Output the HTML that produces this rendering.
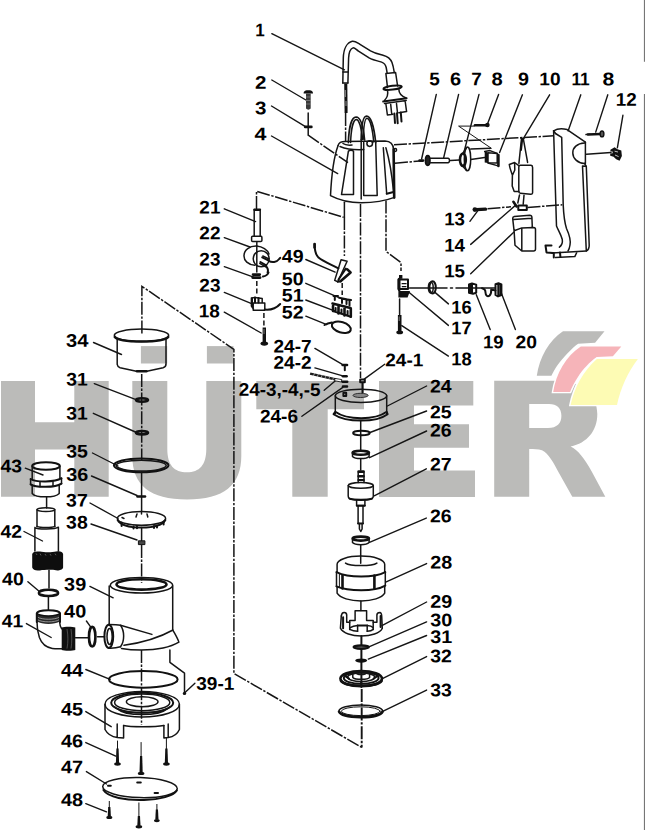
<!DOCTYPE html>
<html><head><meta charset="utf-8"><title>Parts diagram</title>
<style>
html,body{margin:0;padding:0;background:#fff;overflow:hidden}
svg{display:block;position:absolute;left:0;top:0}
text{font-family:"Liberation Sans",sans-serif;font-weight:bold;font-size:18.2px;text-rendering:geometricPrecision;fill:#000}
.l{stroke:#151515;stroke-width:1.5;fill:none;stroke-linecap:round;stroke-linejoin:round}
.t{stroke:#151515;stroke-width:1.0;fill:none;stroke-linecap:round;stroke-linejoin:round}
.k{stroke:#111;stroke-width:2;fill:none;stroke-linecap:round;stroke-linejoin:round}
.kk{stroke:#111;stroke-width:2.6;fill:none;stroke-linecap:round;stroke-linejoin:round}
.f{fill:#111;stroke:none}
.d{stroke:#151515;stroke-width:1.5;fill:none;stroke-dasharray:13 1.6 2.4 1.6}
.d2{stroke:#151515;stroke-width:1.5;fill:none;stroke-dasharray:5 2.5}
.ld{stroke:#151515;stroke-width:1.4;fill:none;stroke-linecap:round}
.w{fill:#bbbbb9}
</style></head><body>
<svg width="645" height="830" viewBox="0 0 645 830">
<rect x="0" y="0" width="645" height="830" fill="#fff"/>
<g id="watermark">
<!-- H -->
<path class="w" d="M1,381 H35 V422.2 H74.3 V381 H108.7 V496.7 H74.3 V449.4 H35 V496.7 H1 Z"/>
<!-- U umlaut -->
<path class="w" d="M132.3,381 H167.3 V449 C167.3,465 174,472.3 187,472.3 C199.5,472.3 206.3,465 206.3,449 V381 H241.3 V456 C241.3,485 224,499.5 187,499.5 C150,499.5 132.3,485 132.3,456 Z"/>
<rect class="w" x="140.9" y="346.1" width="26.3" height="17.4"/>
<rect class="w" x="206.9" y="346.1" width="26.6" height="17.4"/>
<!-- T -->
<path class="w" d="M256.3,381 H364 V409.2 H327.7 V496.7 H292.3 V409.2 H256.3 Z"/>
<!-- E -->
<path class="w" d="M379,381 H473.3 V405.6 H414 V424.2 H469 V447.8 H414 V470.6 H475 V497 H379 Z"/>
<!-- R -->
<path class="w" d="M494.2,380.8 H556 C583,381 597.3,395 597.3,414 C597.3,431 587,443 570.6,446.6 C578,450 584,458 591.7,471.4 L605.3,496.7 H572.3 L559.4,473.8 C553,462 549,454 542,450.3 C538,449 534,449 529.2,449 V496.7 H494.2 Z M529.2,403.9 V428 H548 C557,428 561.4,423.5 561.4,415.8 C561.4,408 557,403.9 549,403.9 Z" fill-rule="evenodd"/>
<!-- logo -->
<path d="M563,331.2 H604.5 L595.1,342.8 L578.1,343.7 C572,348 563,357.5 557.6,365.1 C555,369 553,372.5 551.4,375.8 H536.8 C539.5,357 549,340.5 563,331.2 Z" fill="#bbbbb9" stroke="#fff" stroke-width="2.8" paint-order="stroke"/>
<path d="M580.8,346.4 H621.3 L612.9,356.2 L596.9,357.1 C590,361.5 582.5,370 578.1,376.7 C574.5,382 572,387 570.1,391.9 H553.2 C556,373.5 566,356 580.8,346.4 Z" fill="#f6b4b9" stroke="#fff" stroke-width="2.8" paint-order="stroke"/>
<path d="M596.9,358.9 H637.9 C628,372 620.5,388 617,404.9 H570.6 C574,388 583,371 596.9,358.9 Z" fill="#fdfbb4" stroke="#fff" stroke-width="2.8" paint-order="stroke"/>
<!-- right border -->
<path d="M644.45,0 V61.7 M644.45,94 V830" stroke="#767676" stroke-width="1.1" fill="none"/>
</g>
<g id="leaders" class="ld">
<path d="M271.8,33.7 L344.5,69.8"/>
<path d="M271.8,80 L305.9,100"/>
<path d="M271.5,106 L305,126.4"/>
<path d="M271.5,136 L337.7,173.6"/>
<path d="M436.3,94.4 L421.6,159"/>
<path d="M458.6,94.4 L443.6,158"/>
<path d="M479,94.4 L464.2,151.2"/>
<path d="M498.6,94.4 L487.4,124.2"/>
<path d="M522.4,94.8 L499.6,152.5"/>
<path d="M549.6,94.8 L523.6,138.1"/>
<path d="M580.8,94.8 L568.1,130.9"/>
<path d="M607.8,94.8 L595.7,132.1"/>
<path d="M622.9,115.3 L617.4,147.7"/>
<path d="M469.9,221.3 L477.7,210.9"/>
<path d="M470.7,244.4 L515.4,205.4"/>
<path d="M470.7,273.7 L514,231.9"/>
<path d="M448.4,303.9 L434.4,291.9"/>
<path d="M448.4,325.4 L408.9,292.3"/>
<path d="M448.4,356.1 L401.8,325.6"/>
<path d="M490.2,329.5 L476.3,294.7"/>
<path d="M515.4,329.5 L501.4,293.3"/>
<path d="M224.3,208.8 L255.6,221.6"/>
<path d="M224.3,237.6 L250,247"/>
<path d="M224.3,266.7 L253.6,277.2"/>
<path d="M224.3,292.4 L252.8,304.2"/>
<path d="M224.3,312.2 L261.2,333"/>
<path d="M305.8,259.5 L335.1,272.1"/>
<path d="M305.8,283.3 L337.9,297.2"/>
<path d="M305.8,300 L335.1,311.2"/>
<path d="M305.8,316.2 L326.8,324.6"/>
<path d="M314.9,348.4 L341.9,364.2"/>
<path d="M314.9,367.9 L341.9,375.7"/>
<path d="M324.2,390.2 L336.3,380"/>
<path d="M301.9,416.3 L342.8,387.4"/>
<path d="M384.7,364.2 L364.2,379.1"/>
<path d="M426.6,386 L387.4,406"/>
<path d="M426.6,411 L370,432.5"/>
<path d="M426.6,431 L369.5,457.7"/>
<path d="M426.3,468.8 L374.2,495.8"/>
<path d="M426.3,518.1 L369.5,542.3"/>
<path d="M426.6,563.6 L385.7,582.2"/>
<path d="M426.6,602 L381.9,625.6"/>
<path d="M426.6,621.9 L369.5,646.7"/>
<path d="M426.6,635.5 L368.3,659.1"/>
<path d="M426.6,656.6 L381.9,678.9"/>
<path d="M426.6,690.1 L383.2,711.2"/>
<path d="M93.5,342.5 L121.5,354.5"/>
<path d="M94.3,383.6 L135.4,399.3"/>
<path d="M93.3,413.3 L135.4,432"/>
<path d="M92.5,453 L118,466"/>
<path d="M91.5,476 L137,495.5"/>
<path d="M90,503 L118,518.5"/>
<path d="M91,524 L137,540"/>
<path d="M25.3,468.2 L43,475"/>
<path d="M24,531.5 L42.5,541"/>
<path d="M27.9,581.7 L38.8,591"/>
<path d="M89.9,586.4 L113.2,597.8"/>
<path d="M86.4,621 L90.8,627.2"/>
<path d="M26.4,623.6 L51.2,637.5"/>
<path d="M85.8,669.5 L110.1,679.4"/>
<path d="M85.8,711.6 L111.2,726.7"/>
<path d="M85.8,742.6 L115.8,756.1"/>
<path d="M86.4,771.6 L106.5,784"/>
<path d="M85.8,803.6 L106.5,811.9"/>
<path d="M194.9,683.3 L184.5,693"/>
</g>
<g id="axes">
<!-- big boundary -->
<path class="d" d="M141.9,333.4 V286.3 L233.9,349.3 V673.5 L361.8,747.4"/>
<!-- left assembly axis -->
<path class="d" d="M141.7,374 V460"/>
<path class="l" d="M141.6,472 V511.6 M141.6,527.6 V540.6"/><path class="d" d="M141.6,545 V583"/>
<path class="d" d="M141.5,650 V725"/>
<!-- main axis -->
<path class="d" d="M360.5,204 V378"/>
<path class="l" d="M360.7,421 V450 M360.7,459 V470 M360.7,545 V563.2 M360.9,601 V610.6"/>
<path class="k" d="M361.4,636 V687"/><path class="d" d="M361.7,689 V747.4" style="stroke-width:1.9"/>
<!-- cable to pump -->
<path class="d" d="M345.6,113 V141"/>
<!-- pump body lines -->
<path class="d" d="M344.4,217 V256"/>
<path class="d" d="M386,200.6 V251.4 L401,262.6 V271"/>
<path class="l" d="M399.6,299 V314.5"/>
<!-- 21 to body -->
<path class="d" d="M256.5,209 V191.2 L343.6,217.3"/>
<path class="l" d="M256.8,242.5 V272"/><path class="d2" d="M256.8,281 V296"/>
<path class="d2" d="M263.9,313 V327"/>
<!-- 3 dash -->
<path class="l" d="M308.2,113 V135.2"/><path class="d" d="M308.2,135.2 L348,162.7"/>
<!-- top right dash-dot lines -->
<path class="d" d="M394,144.8 L553.6,135.8"/>
<path class="d" d="M395,163.2 L419.6,161"/><path class="l" d="M450.4,160.6 L459.4,159.9 M470.8,159.4 L484.6,157.6"/>
<path class="d" d="M487.5,208.8 L511,206.8"/>
<path class="d" d="M527.5,207.4 L562.3,204.8"/>
<path class="l" d="M586.5,154.2 L611,152.6"/>
<path class="l" d="M409.5,287.9 H447 M450.5,287.9 H452.5 M456,287.9 H495"/>
<path class="d2" d="M342.2,283 V295"/>
</g>
<g id="art1">
<!-- 1 cable -->
<path class="l" d="M342.8,83 L343.3,58 C343.6,48 347.5,42.3 352.3,41.2 C355,40.8 357,42.5 360,44.3 L370.5,50.9 C375,53.5 379,54.2 383,55.2 C387.5,56.3 390.5,58.5 392,62.5 C393.3,66 393.8,69.5 394.3,72.6"/>
<path class="l" d="M347.9,83 L348.6,58 C348.9,52 350.5,48.8 353,47.9 C354.6,47.5 356.2,49.6 358.5,51.2 L369.1,57.9 C373,60 377.5,61 381.6,62.1 C384.3,63 385.6,64.5 386.2,67.5 L387.2,73.3"/>
<path class="l" d="M342.9,72 H348 M342.8,83 H347.9"/>
<path d="M344.2,83.5 H347.3 L347.6,113 H344.6 Z" class="f"/>
<path d="M345.3,90 V97 M346,101 V106" stroke="#ccc" stroke-width="0.7"/>
<!-- plug -->
<path class="l" d="M385.9,73.6 L395.6,72.5 L397.6,86 M385.9,73.6 L387.5,87.5"/>
<ellipse cx="392.6" cy="87.7" rx="9.2" ry="1.9" transform="rotate(-7 392.6 87.7)" class="k"/>
<path class="l" d="M387.5,90.5 C388.5,95 386.8,98 384.5,100.5 M398.9,89.6 C398.8,93.5 400.8,95.8 406,98"/>
<path class="k" d="M383.2,101.6 L406.6,98.2"/>
<path class="l" d="M384.5,103.4 L406.2,100.5 M385.9,104 L387.4,115 L393,114.2 M405.2,101.5 L406.6,111.6 L399,112.8 M390.7,104.4 L391.7,114 M396.5,103.6 L397.5,113"/>
<path class="k" d="M394.4,113.5 L395,123 M397,113.2 L397.7,123.2 M400.8,112.5 L401.5,121.5"/>
<!-- 2 screw -->
<path d="M303.6,93.6 C303.6,90.6 306,90.3 308.3,90.3 C310.6,90.3 313,90.6 313,93.6 Z" class="f"/>
<path d="M306,93.6 H310.7 V108.6 C309.5,110 307.2,110 306,108.6 Z" fill="#3a3a3a"/>
<path d="M306,97 H310.7 M306,100.5 H310.7 M306,104 H310.7" stroke="#999" stroke-width="0.6"/>
<path class="kk" d="M305.2,126.9 H311.4"/>
<!-- 4 cap -->
<path class="l" d="M338.1,145.4 C339,142.5 342,141.6 345,141.6 L385,140.9 C390.5,141 393.3,144.5 393.6,149.5"/>
<path class="l" d="M338.1,145.4 C334.5,155 331.5,175 330.5,195.6 C340,200.6 352,202.7 361.2,202.7 C372,202.7 385,201 394.4,197.4"/>
<path class="kk" d="M393.6,149.5 L394.2,197.6"/>
<path class="l" d="M340,146.5 C346,149 356,150 363.7,149.6 M343,143.5 C345,145 349,145.3 352,145"/>
<path class="l" d="M348.4,151.2 L341.5,194.6 H353.5 V151.2 M348.4,151.2 C350,150 352,150 353.5,151.2"/>
<path class="l" d="M361.2,139.5 V199 M363.7,142.6 V195.6 H377.2 L375.7,142.6"/>
<circle cx="369.7" cy="143.6" r="2.8" class="l"/>
<path class="l" d="M383.3,147.7 L386.7,193.8 M385.9,147.7 C389.5,160 392,175 393.6,192"/>
<path class="k" d="M386.7,193.8 L393.6,192"/>
<circle cx="395.2" cy="150" r="1.4" class="l"/>
<!-- handle -->
<path class="l" style="stroke-width:1.7" d="M348.4,142.6 C348.8,128 351.5,117.2 356,117 C360.5,117 363.3,126 364.6,140"/>
<path class="l" d="M350.6,142.6 C351,130 353.2,119.6 356.2,119.4 C359,119.4 361.5,128 362.6,139.5"/>
<path class="l" style="stroke-width:1.7" d="M361.2,139.2 C361.4,126 363,116.2 366.6,116 C371,116 374.2,128 375.7,142.6"/>
<path class="l" d="M363.2,139.2 C363.6,128 364.6,118.4 367,118.3 C370,118.4 372.6,129 373.7,142"/>
<!-- pump body below cap -->
<path class="l" d="M344.4,202.3 V217"/>
<!-- 5 nut -->
<ellipse cx="427.7" cy="160.5" rx="2.3" ry="4.9" fill="#222" stroke="#111" stroke-width="1.6"/>
<path class="kk" d="M419.6,160.6 H423"/>
<!-- 6 pin -->
<path class="l" d="M430.4,158.3 H448.2 C450,158.8 450,162.2 448.2,162.7 H430.4"/>
<!-- 7 disc -->
<ellipse cx="467.5" cy="158.9" rx="3.2" ry="11.8" class="l"/>
<ellipse cx="462.9" cy="159.7" rx="2.9" ry="6.2" class="kk"/>
<path class="l" d="M463,153 L466.6,147.6 M463,166.4 L466.6,170.4"/>
<path class="l" d="M470.8,149.1 L490.6,148.2"/>
<!-- zig-zag + screw 8 -->
<path class="t" d="M474.4,126.1 H458.6 L491.2,148.2"/>
<path class="kk" d="M475,125.2 H486"/>
<circle cx="487.4" cy="125" r="2.3" class="f"/>
<!-- 9 block -->
<path d="M484.7,151.6 L488,152.6 V163 L484.7,162.4 Z" class="f"/>
<path class="l" d="M488,152.8 L497.2,153.4 V163 L488,162.8 Z"/>
<path class="kk" d="M498.4,155 V166"/>
<path class="l" d="M484.7,151.6 L490,150.6 L497.2,153.4 M488,163 L497.2,165.6"/>
<!-- 10 switch -->
<path class="l" d="M521.5,138.6 L518.9,163.4 M523.3,138.6 L527.6,162.4 M521,138.5 H524"/>
<path class="k" d="M522.2,139.5 L521,150"/>
<path class="l" d="M520.4,165.3 H531 C532.2,165.4 532.6,166.2 532.6,167.4 V192.6 C532.6,193.8 531.8,194.3 530.6,194.2 L520.4,193.3 C519.2,193.2 518.8,192.4 518.8,191.2 V167 C518.8,165.8 519.4,165.3 520.4,165.3 Z"/>
<path class="l" d="M509.3,164.5 L514.6,162.5 L518.8,165.6 M509.3,164.5 C509.8,169 511.5,172 512.4,175 L512.2,186 L514.2,191.5 L518.8,191.5 M514.6,162.6 L514.8,170 L512.6,175"/>
<path class="l" d="M519.5,195 L517.8,203 M524,195.3 L523.2,204.3"/>
<path class="kk" d="M513.4,201.8 L516.6,206.4"/><path class="k" d="M518.3,205.5 H526.8 V210 H518.3 Z"/>
<!-- 11 cover -->
<path class="l" d="M553.6,130.8 C557,128.8 563,128.6 567.1,129.6 L585.4,142.2"/>
<path class="l" d="M553.6,130.8 L556.5,226 C558,230 561,234.5 562.3,239.5 C562.8,243 561.5,245.5 559.4,247.2"/>
<path class="l" d="M555.5,133.5 L561.7,137.3 L563.2,204.8 C563.6,214 564.4,222 566.5,228.5 C569,234 571,240 570,245 C569.6,247.5 569,249.5 568,251"/>
<path class="l" d="M553.6,130.8 L555.5,133.5"/>
<path class="l" d="M584.6,143 C577,143.4 572.7,147.5 572.8,152.9 C572.9,158.5 577.5,163 584.4,163.4 M585.4,142.2 V163.5"/>
<path class="l" d="M582.5,166 L586.3,251 M586.3,166.2 L589.2,245 C589.3,248 588,250.2 586.3,251 M582.5,166 L586.3,166.2 M584.4,163.4 L586.3,166.2"/>
<path class="l" d="M552,253 L586.3,251 M555.5,257.6 L574.8,256.6 L577,252"/>
<path class="k" d="M545.5,245.5 H551.5 M545.5,245.5 L546.5,252.4 L553,253 M553.8,253 V257.5 M560,252.6 L560.4,256.8"/>
<!-- screw 8 right -->
<path class="kk" d="M588,134.5 L600.2,134"/>
<ellipse cx="602" cy="133.9" rx="1.9" ry="2.9" fill="#555" stroke="#111" stroke-width="1.4"/>
<path class="l" d="M586,134.6 L590,134.3"/>
<!-- 12 -->
<path d="M610.4,149.8 L614.6,147.3 L617.5,149.2 L621.3,150.6 L621.9,156 L619.6,160.7 L616.2,159.3 L613.6,156.8 L610.2,155.8 L610.2,153.6 L612.6,153.2 L612.6,151.6 L610.4,151.4 Z" fill="#111"/>
<path d="M614.6,151.2 L618,152 M615,155 L618.6,156.6" stroke="#eee" stroke-width="0.8"/>
<!-- 13 screw -->
<circle cx="474.9" cy="209.6" r="2.4" class="f"/>
<path d="M476.5,209.6 L485.6,209.2" stroke="#111" stroke-width="3.2" stroke-linecap="round"/>
<!-- 15 box -->
<path class="l" d="M514.2,216.4 L529.8,215.3 C531.2,215.3 531.8,216 531.9,217.2 L532.3,227 M514.2,216.4 C513,216.6 512.6,217.4 512.7,218.6 L514.1,230.8 L521.8,227.9 L533.6,227.6 C535,227.7 535.5,228.4 535.5,229.6 V249 C535.5,250.4 534.8,251 533.6,251 H521.8 L515,245.2 L514.1,230.8 M521.8,227.9 V251 M513.5,219.5 L531.8,218.2"/>
</g>
<g id="art2">
<!-- 21 bolt -->
<path class="l" d="M254.2,209.6 V236 M260.2,209.6 V236"/>
<path class="kk" d="M254.6,209.8 H259.8"/>
<path class="l" d="M252.6,236.2 H261 C261.7,236.3 261.9,236.8 261.9,237.4 V240.6 C261.9,241.3 261.5,241.6 260.8,241.6 H252.6 C252,241.6 251.6,241.2 251.6,240.6 V237.2 C251.6,236.6 252,236.2 252.6,236.2 Z"/>
<!-- 22 clamp -->
<path class="l" d="M256.7,246.1 C249.5,245.8 244.2,250 244,255.6 C243.8,260.6 248,264.8 254.9,265.2"/>
<path class="l" d="M256.7,246.1 C262.5,246.6 267.5,250 269,254"/>
<ellipse cx="261.2" cy="258.8" rx="8" ry="8" class="l"/>
<path class="k" d="M262.2,257.4 L268.3,260.4 M260.4,262 L266.2,265.4"/>
<path class="l" d="M262.8,256 L269,259 M259.8,263.4 L265.6,266.8"/>
<path class="k" d="M268.6,260.8 C272,262.8 276.6,262.4 279.2,259 L280.2,257.8 M265.8,266 C267.8,268 268.4,270.4 267.6,272.6"/>
<!-- 23 nut -->
<path class="kk" d="M253,274.6 H259.8 M252.6,277.6 H260.2"/>
<path class="k" d="M263,276.5 C266,276 267.8,274.5 268.5,272.5"/>
<!-- 23b block -->
<path class="l" d="M251.4,298 L255,297.4 L262.2,298.6 V303 M251.4,298 V306 L253.4,309 M253.2,303 H264.8 V310.3 H253.2 Z"/>
<path class="k" d="M252,298.6 V305.6 M255,297.6 V302.6 M258.5,298 V302.6"/>
<path class="k" d="M264.8,309.6 C271,310.2 276.5,308 280.2,304"/>
<!-- 18 bolt left -->
<path d="M262.6,327.5 H266 V342.5 H262.6 Z" class="f"/>
<path d="M264,329 V334" stroke="#aaa" stroke-width="0.7"/>
<ellipse cx="264.3" cy="343.6" rx="3.8" ry="2.1" class="f"/>
<!-- 49 -->
<path class="k" d="M314.6,243.9 C314.6,249 315,254 318.5,257.6 C323,261.5 331,264.5 338.4,268.4"/>
<path class="kk" d="M314.6,244 V247.5"/>
<path class="l" d="M341.1,259.8 L347.1,261.2 L337.8,281.7 L334.7,280.4 Z"/>
<path class="kk" d="M347.1,269.3 L350.6,272.4 L340.5,281.2"/>
<path class="k" d="M345.8,268.6 L338.5,279.5 M337.8,281.7 L341,281.2"/>
<!-- 50/51 terminal block -->
<path class="k" d="M333.5,296 H338 M334.8,296 V300 M339,297.8 L346.5,299.3 M342,298.4 V303 M346.5,299.3 V304 M349.5,300 V305.5 M344,299 L351,300"/>
<path class="kk" d="M332.5,303.5 L350.5,308 M333,306 V311 M338.5,305.5 V313.5 M344.5,307 V315.5 M350.8,308.5 V316.8"/>
<path class="k" d="M333,311 L350.8,316.8 M335.6,308 V311.6 M341.5,309.6 V313.5 M347.6,311 V315.6"/>
<!-- 52 loop -->
<ellipse cx="341.3" cy="327.3" rx="9.8" ry="5.2" transform="rotate(17 341.3 327.3)" class="k"/>
<path class="k" d="M324.5,325 C327,323.6 329.5,323 332,322.6"/>
<!-- 17 -->
<path d="M399,275 H402.4 V278.8 H399 Z" class="f"/>
<path class="k" d="M398.4,279.4 H408 V289 H398.4 Z"/>
<path class="kk" d="M399.2,279 V290"/>
<path d="M401.6,283.6 H406.6 M401.8,286.6 H406.4" stroke="#111" stroke-width="1.3"/>
<path d="M398.4,291 H410 L407.6,297.6 H398.4 Z" class="f"/>
<!-- 18 bolt right -->
<path d="M397.9,315 H401.5 V331 H397.9 Z" class="f"/>
<path d="M399.2,316.5 V321" stroke="#aaa" stroke-width="0.7"/>
<ellipse cx="399.7" cy="332.4" rx="3.4" ry="1.8" class="f"/>
<!-- 16 -->
<ellipse cx="432.6" cy="287.4" rx="3.2" ry="6.2" class="k"/>
<ellipse cx="430.8" cy="287.6" rx="2.4" ry="5.4" class="l"/>
<!-- 19 -->
<path class="k" d="M469,284.5 L472,283.5 L476.2,284.6 V292.8 L473,293.8 L469,292.8 Z M472,283.8 V293.5 M469,288.5 H472"/>
<path class="kk" d="M470,285 V292.5"/>
<!-- 20 -->
<path class="k" d="M482,288.2 C484,288.6 485.5,290 485.5,292.5 C485.6,295.5 487.5,297 489.5,295.6 C491,294.4 491.3,292 491.2,289.6 L495.5,290.4"/>
<path class="k" d="M495.5,284.2 L498.5,283.3 L501.4,284.4 V295 L498,296.4 L495.5,295 Z M498.3,283.6 V296"/>
<path class="kk" d="M500.6,285 V294.5"/>
<!-- 24-7 -->
<path class="kk" d="M342.6,365 H347"/>
<path class="k" d="M344.8,365.5 V370.2"/>
<!-- 24-2 -->
<path class="kk" d="M343,376.3 H346.6"/>
<!-- hatched rod -->
<path d="M310.1,373.6 L336,379.5" stroke="#1c1c1c" stroke-width="2.5" fill="none"/>
<path d="M314.6,373.2 L313.2,376.4 M318.4,374 L317,377.2 M322.2,374.9 L320.8,378.1 M326,375.8 L324.6,379 M329.8,376.7 L328.4,379.9 M333.6,377.6 L332.2,380.8" stroke="#eee" stroke-width="0.55"/>
<path d="M335,378.4 L341.8,379.6 L341.4,382 L334.6,380.8 Z" fill="#fff" stroke="#151515" stroke-width="0.9"/>
<path class="kk" d="M342.6,381.8 H347.2 M343,386.5 H347"/>
<path class="k" d="M343.4,392.8 H346.2 V396 H343.4 Z"/>
<!-- 24-1 -->
<path class="k" d="M360.2,379.4 H364.8 V382.2 H360.2 Z M362.5,382.2 V392.5"/>
<!-- 24 -->
<ellipse cx="361" cy="395.8" rx="25.7" ry="6.6" class="l"/>
<path class="l" d="M335.3,395.8 V413.5 M386.7,395.8 V413.5"/>
<path class="k" d="M333.6,414.2 C340,418.6 350,420.6 361.2,420.6 C372.5,420.6 382,418.4 387.6,414.2 M335.3,411.8 C341,416 350,418.2 361.2,418.2 C372,418.2 381,416 386.7,411.8 M333.6,414.2 L335.3,411.8 M387.6,414.2 L386.7,411.8"/>
<ellipse cx="360.6" cy="395.4" rx="7.6" ry="2.1" fill="#888" stroke="#222" stroke-width="0.9"/>
<!-- 25 -->
<ellipse cx="361.4" cy="433" rx="8.3" ry="2.3" class="k"/>
<!-- 26 upper -->
<ellipse cx="360.8" cy="452.8" rx="8.2" ry="2" class="kk"/>
<path class="l" d="M352.5,453 V456.5 C355,459.3 366.5,459.3 369.1,456.5 V453"/>
<!-- 27 rotor -->
<path class="l" d="M358.2,472 V482.5 M364,472 V482.5"/>
<path class="kk" d="M358.6,471.6 H363.6 M358.6,476.2 H363.6"/>
<path class="k" d="M358.4,480 H363.8"/>
<ellipse cx="360.8" cy="485.4" rx="12.5" ry="2.8" class="l"/>
<path class="l" d="M348.2,485.4 V496 C348.2,498 350,499.4 353,499.6 H368.5 C371.6,499.4 373.3,498 373.3,496 V485.4"/>
<path class="k" d="M349.5,498.6 C356,500.6 366,500.6 372,498.6"/>
<path class="l" d="M356.6,500.6 V505.6 H364.9 V500.6 M358.1,505.6 V523.5 M363,505.6 V523.5"/>
<path class="k" d="M356.8,505.8 H364.8 M358.1,523.5 H363"/>
<path class="l" d="M359.4,523.6 V529 L360.8,531.5 L362.1,529 V523.6"/>
<!-- 26 lower -->
<ellipse cx="360.8" cy="538.6" rx="8.2" ry="2" class="kk"/>
<path class="l" d="M352.5,538.8 V542.6 C355,545.4 366.5,545.4 369.1,542.6 V538.8"/>
</g>
<g id="art3">
<!-- 28 stator -->
<path class="l" d="M337.1,572 V564.3 C337.1,559.6 348,556.1 360.9,556.1 C374,556.1 384.7,559.6 384.7,564.3 V572"/>
<path class="l" d="M345.5,563.1 C350,566.4 372,566.4 376.9,563.1"/>
<path class="k" d="M336.5,572.1 C343,575.4 351,576.6 361.2,576.6 C371,576.6 379,575.4 385.3,572.1 M336.5,586.4 C343,589.2 351,590.3 361.2,590.3 C371,590.3 379,589.2 385.3,585.6"/>
<path class="l" d="M336.5,572.1 V586.4 M385.3,572.1 V585.6"/>
<path class="kk" d="M342.5,575.2 V588.4 M374.4,575.6 V588.6"/>
<path class="t" d="M339.4,574 V587.4"/>
<path class="l" d="M337.1,587 V593.2 C340,598 350,601 361.2,601 C372,601 382,598 384.7,593.2 V586"/>
<!-- 29 crown -->
<path class="l" d="M341.3,616.1 C341.6,613.4 343,612.4 344.3,612.5 C345.8,612.6 346.6,613.6 346.7,614.9 V622.2 H349.7 V620.4 H355.1 V610.7 H366.6 V620.4 H373.2 V622.2 H376.9 V614.9 C377,613.4 378.4,612.5 379.9,612.5 C381.2,612.6 381.6,614 381.7,616.1 L382.3,628.2"/>
<path class="l" d="M341.3,616.1 L340.4,628.2 C343,633.4 352,636 361.2,636 C371,636 380,633.4 382.3,628.2"/>
<path class="k" d="M343.1,617.3 V628.2 M380.6,616 V627"/>
<path class="l" d="M349.7,622.2 V629.4 M373.2,622.2 V629.4 M357.6,625.4 V631.2 M367.2,625.4 V631.2"/>
<path class="k" d="M357.6,625.5 H367.2"/>
<path class="l" d="M350.3,627.6 C352,626.4 355,625.6 357.6,625.4 M367.2,625.4 C370,625.6 372,626.4 373,627.6 M349.7,629.4 C352,630.6 355,631.2 357.6,631.2 M367.2,631.2 C370,631.2 372,630.6 373.2,629.4"/>
<!-- 30 -->
<ellipse cx="361.2" cy="647.1" rx="7.6" ry="1.7" style="stroke:#111;stroke-width:2.2;fill:#666"/>
<!-- 31 -->
<ellipse cx="361.2" cy="660.6" rx="6" ry="2.1" class="f"/>
<!-- 32 disc -->
<ellipse cx="361.2" cy="678.6" rx="20.8" ry="7.6" class="kk"/>
<ellipse cx="361.2" cy="678" rx="17.4" ry="5.8" class="k"/>
<ellipse cx="361.2" cy="677.2" rx="13.6" ry="4.2" class="l"/>
<path class="kk" d="M341,681 C346,687.4 377,687.4 381.6,681"/>
<path d="M352.8,673.4 C355,671 368,671 369.6,673.4 V677.4 C368,680 355,680 352.8,677.4 Z" fill="#fff" class="l"/>
<ellipse cx="361.2" cy="673.2" rx="4.6" ry="1.4" class="l"/>
<path d="M345,676 L349,678.6 M377.6,676 L373.6,678.6 M361.2,682 V684" class="k"/>
<!-- 33 ring -->
<ellipse cx="360.8" cy="711" rx="21.8" ry="5.9" class="l"/>
<ellipse cx="360.8" cy="711.2" rx="19.4" ry="4.4" class="t"/>
<path class="kk" d="M339,711.6 C342,719 379,719 382.6,711.6"/>
</g>
<g id="art4">
<!-- 34 cup -->
<ellipse cx="141.5" cy="335.3" rx="27.2" ry="6.2" class="l"/>
<path class="kk" d="M114.8,337 C120,343 163,343 168.2,337"/>
<path class="l" d="M117.2,339 V364.4 C117.4,366 118.6,367.2 120.1,367.7 L136.4,371.2 H146.9 L163.1,367.7 C164.8,367.2 165.9,366 166,364.4 V339"/>
<path class="kk" d="M137,371.3 H146.4"/>
<!-- 31 a,b -->
<ellipse cx="142" cy="400" rx="6" ry="1.7" class="kk"/>
<ellipse cx="142" cy="432.7" rx="6" ry="1.7" class="kk"/>
<!-- 35 ring -->
<ellipse cx="141.2" cy="465.3" rx="27.3" ry="6.9" class="k"/>
<ellipse cx="141.2" cy="465.6" rx="25" ry="5.4" class="l"/>
<!-- 36 -->
<path class="kk" d="M137.5,496.5 H145"/>
<!-- 37 disc -->
<ellipse cx="141.5" cy="518.4" rx="24.1" ry="6.8" class="l"/>
<path class="k" d="M117.6,520 C121,526 133,527.6 141.5,527.6 C151,527.6 162,526 165.4,520"/>
<path class="k" d="M121.6,522.6 V526 M133.5,526.4 V528.4 M137,526.8 V528.2 M154,526 V528 M157,525.6 V527.6 M163.6,521.6 V524.4"/>
<path class="l" d="M141.5,511.8 V514 M137,514 L136,517 M147,514 L147.8,517 M122,517.5 L124,518.5"/>
<!-- 38 -->
<path d="M138.4,540.8 H144.9 V544.6 H138.4 Z" fill="#444" stroke="#111" stroke-width="1"/>
<!-- 43 -->
<ellipse cx="46" cy="466" rx="13.8" ry="3.8" class="k"/>
<path class="l" d="M32.2,466.2 V478.6 M59.9,466.2 V478.2"/>
<path class="k" d="M30.6,479 C36,482.4 55,482.4 61.5,478.2 M30.6,484.4 C36,487.8 55,487.8 61.5,483.6"/>
<path class="l" d="M30.6,479 V484.4 M61.5,478.2 V483.6 M40,481.4 V486.6 M53,481.4 V486.6"/>
<path class="l" d="M32.2,485.2 V493.4 C36,498 55,498 59.2,493.4 V484.6"/>
<path class="l" d="M46.6,497 V508"/>
<!-- 42 -->
<ellipse cx="45.9" cy="509.6" rx="8.9" ry="1.9" class="l"/>
<path class="l" d="M37,509.8 V526.4 M54.8,509.8 V526.4"/>
<path class="l" d="M34.9,527.6 C38,529.6 55,529.6 58.4,527.2 M34.9,527.6 V551 M58.4,527.2 V551"/>
<path class="l" d="M37,526.4 C40,528 52,528 54.8,526.4"/>
<path d="M32.2,554 C33,551.6 36,551 40,551.6 C44,552.6 52,552.6 56,551.6 C60,550.8 62.4,551.6 63.1,554 V567.6 C62.6,570 60,570.8 56,570.2 C52,569.6 44,569.8 40,570.4 C36,571 33,570.2 32.2,567.6 Z" fill="#0e0e0e"/>
<path d="M36,553.4 L37,555 M40,553.6 L41,555.4 M45,554 L46,555.6 M50,554 L51,555.6 M55,553.6 L56,555.2" stroke="#888" stroke-width="0.6"/>
<path class="l" d="M49,570.6 V588"/>
<!-- 40 ring -->
<ellipse cx="48.5" cy="592.9" rx="9.6" ry="3.1" class="kk"/>
<path class="l" d="M48.4,597 V609.6"/>
<!-- 41 elbow -->
<ellipse cx="48.4" cy="613.2" rx="11.4" ry="3" class="k"/>
<path d="M37,614.6 C42,617.6 55,617.6 59.8,614.6 V621.6 C55,624.8 42,624.8 37,621.6 Z" fill="#2a2a2a"/>
<path d="M37.4,617 C42,620 55,620 59.4,617 M37.4,619.6 C42,622.6 55,622.6 59.4,619.6" stroke="#bbb" stroke-width="0.7" fill="none"/>
<path class="k" d="M36.8,613.2 V622 M60,613.2 V622"/>
<path class="l" d="M37,622 C37,626 37.6,632 39.4,637.6 C41.6,643.6 46,647.6 52.3,648.4 C55,648.8 58,648.8 61.7,648.7 M59.6,622 C59.8,625 60.4,627 61.7,628.7"/>
<path d="M61.7,627.6 C64,626.6 73,626.6 75.3,627.6 V650 C73,651 64,651 61.7,650 Z" fill="#111"/>
<path d="M67,629 C68.2,636 68.2,642 67,648.6 M71,629 C72,636 72,642 71,648.6" stroke="#666" stroke-width="0.7" fill="none"/>
<path class="l" d="M75.5,637.8 H88.2 M97.5,636.8 H104.6"/>
<!-- 40b vertical ring -->
<ellipse cx="92.2" cy="636.7" rx="3.2" ry="9.8" class="kk"/>
<!-- 39 housing -->
<ellipse cx="141.5" cy="585.3" rx="31.2" ry="7.8" class="l"/>
<ellipse cx="141.5" cy="584.4" rx="25" ry="5.2" class="kk"/>
<path class="l" d="M109.2,586 V624.6 M172.7,586 V629.8 C175,634 177.6,638 178.9,642.2 C170,647.6 155,650 141.2,650 C134,650 127,649.4 121.5,648.4"/>
<path class="l" d="M108.8,624.6 C112,624.6 118,624.8 120.5,625.3 L151.9,634.4 M108.8,648.2 C113,648.4 118,647.6 120.5,646.8 M124,645.3 C140,643 158,638.4 173,630"/>
<ellipse cx="108.8" cy="636.4" rx="4.4" ry="11.6" class="k"/>
<ellipse cx="109.6" cy="636.4" rx="2.6" ry="8" class="l"/>
<path class="l" d="M120.5,625.3 C124.6,631 124.8,641 120.5,646.8"/>
<!-- 39-1 -->
<path class="l" d="M169.9,649.9 V662.3 L184.5,673.2 V692"/>
<circle cx="184.5" cy="693.4" r="1.7" class="f"/>
<!-- 44 ring -->
<ellipse cx="143.3" cy="679.4" rx="34.3" ry="8.3" class="k"/>
<!-- 45 base -->
<ellipse cx="142.2" cy="704.2" rx="37.2" ry="12.8" class="l"/>
<ellipse cx="142.2" cy="702.8" rx="31" ry="10" class="k"/>
<ellipse cx="142.2" cy="702.4" rx="27.6" ry="8.4" class="l"/>
<ellipse cx="142.2" cy="701.8" rx="15.8" ry="5" class="l"/>
<path class="l" d="M114,706.5 C122,714.6 162,714.6 170.4,706.5 M117,708.6 C126,716.6 158,716.6 167.6,708.6"/>
<path class="l" d="M105,704.5 V729.5 C108,735 113,737 117.2,737.6 V724 M117.2,737.6 L123.6,738 V725.6 M179.4,704.5 V729.5 C177,735 172,737 168.2,737.6 V724 M168.2,737.6 L163.9,738 V725.6"/>
<path class="l" d="M123.6,725.6 C130,727.2 155,727.2 163.9,725.6"/>
<!-- 46 screws -->
<path class="t" d="M117.5,741.0 V750.4"/><path class="f" d="M116.4,748.4 L118.6,748.4 L119.1,763.0 L115.9,763.0 L115.9,763.0 Z"/><ellipse cx="117.5" cy="764.0" rx="3.3" ry="1.7" class="f"/>
<path class="t" d="M141.1,742.5 V758.0"/><path class="f" d="M140.0,756.0 L142.2,756.0 L142.7,772.4 L139.5,772.4 L139.5,772.4 Z"/><ellipse cx="141.1" cy="773.4" rx="3.3" ry="1.7" class="f"/>
<path class="t" d="M166.4,737.4 V750.4"/><path class="f" d="M165.3,748.4 L167.5,748.4 L168.0,763.0 L164.8,763.0 L164.8,763.0 Z"/><ellipse cx="166.4" cy="764.0" rx="3.3" ry="1.7" class="f"/>
<!-- 47 plate -->
<ellipse cx="140" cy="787.6" rx="37.3" ry="10" transform="rotate(1.6 140 787.6)" class="l"/>
<path class="k" d="M103.4,790 C108,797.4 126,800.6 144,800 C160,799.4 173.6,796 176.8,790.6"/>
<path class="k" d="M137.2,782.4 H140.8 M108,785.8 H110.8 M154.6,793 H158"/>
<!-- 48 screws -->
<path class="t" d="M109.3,801.4 V809.0"/><path class="f" d="M108.2,807.0 L110.4,807.0 L110.9,816.4 L107.7,816.4 L107.7,816.4 Z"/><ellipse cx="109.3" cy="817.4" rx="3.0" ry="1.7" class="f"/>
<path class="t" d="M138.9,802.9 V818.0"/><path class="f" d="M137.8,816.0 L140.0,816.0 L140.5,825.8 L137.3,825.8 L137.3,825.8 Z"/><ellipse cx="138.9" cy="826.8" rx="3.3" ry="1.7" class="f"/>
<path class="t" d="M156.9,804.4 V811.5"/><path class="f" d="M155.8,809.5 L158.0,809.5 L158.5,819.6 L155.3,819.6 L155.3,819.6 Z"/><ellipse cx="156.9" cy="820.6" rx="2.9" ry="1.7" class="f"/>
</g>

<g id="labels">
<text transform="translate(255.32,36.35) scale(0.937,1) rotate(0.03)">1</text>
<text transform="translate(254.98,88.75) scale(1.131,1) rotate(0.03)">2</text>
<text transform="translate(254.98,114.25) scale(1.131,1) rotate(0.03)">3</text>
<text transform="translate(254.54,140.35) scale(1.177,1) rotate(0.03)">4</text>
<text transform="translate(429.34,85.25) scale(1.040,1) rotate(0.03)">5</text>
<text transform="translate(450.10,85.25) scale(1.097,1) rotate(0.03)">6</text>
<text transform="translate(471.14,85.25) scale(1.040,1) rotate(0.03)">7</text>
<text transform="translate(491.49,85.25) scale(1.108,1) rotate(0.03)">8</text>
<text transform="translate(517.91,85.25) scale(1.085,1) rotate(0.03)">9</text>
<text transform="translate(539.37,85.25) scale(1.049,1) rotate(0.03)">10</text>
<text transform="translate(571.40,85.25) scale(0.954,1) rotate(0.03)">11</text>
<text transform="translate(602.45,85.25) scale(1.165,1) rotate(0.03)">8</text>
<text transform="translate(615.79,105.65) scale(1.033,1) rotate(0.03)">12</text>
<text transform="translate(444.20,225.25) scale(1.028,1) rotate(0.03)">13</text>
<text transform="translate(444.20,251.45) scale(1.028,1) rotate(0.03)">14</text>
<text transform="translate(444.20,277.35) scale(1.028,1) rotate(0.03)">15</text>
<text transform="translate(451.23,313.45) scale(1.007,1) rotate(0.03)">16</text>
<text transform="translate(451.23,334.35) scale(1.007,1) rotate(0.03)">17</text>
<text transform="translate(451.23,365.35) scale(1.007,1) rotate(0.03)">18</text>
<text transform="translate(483.00,348.25) scale(1.023,1) rotate(0.03)">19</text>
<text transform="translate(515.43,348.25) scale(1.060,1) rotate(0.03)">20</text>
<text transform="translate(385.24,366.35) scale(1.047,1) rotate(0.03)">24-1</text>
<text transform="translate(199.34,213.45) scale(1.044,1) rotate(0.03)">21</text>
<text transform="translate(199.34,239.35) scale(1.044,1) rotate(0.03)">22</text>
<text transform="translate(199.34,265.45) scale(1.044,1) rotate(0.03)">23</text>
<text transform="translate(199.34,291.55) scale(1.044,1) rotate(0.03)">23</text>
<text transform="translate(198.68,317.35) scale(1.044,1) rotate(0.03)">18</text>
<text transform="translate(281.82,262.55) scale(1.076,1) rotate(0.03)">49</text>
<text transform="translate(281.82,285.25) scale(1.076,1) rotate(0.03)">50</text>
<text transform="translate(281.82,301.55) scale(1.076,1) rotate(0.03)">51</text>
<text transform="translate(281.82,318.45) scale(1.076,1) rotate(0.03)">52</text>
<text transform="translate(273.54,352.55) scale(1.044,1) rotate(0.03)">24-7</text>
<text transform="translate(273.54,368.75) scale(1.044,1) rotate(0.03)">24-2</text>
<text transform="translate(238.74,395.85) scale(1.038,1) rotate(0.03)">24-3,-4,-5</text>
<text transform="translate(259.94,422.45) scale(1.047,1) rotate(0.03)">24-6</text>
<text transform="translate(430.02,392.55) scale(1.070,1) rotate(0.03)">24</text>
<text transform="translate(430.02,418.35) scale(1.070,1) rotate(0.03)">25</text>
<text transform="translate(430.02,436.45) scale(1.070,1) rotate(0.03)">26</text>
<text transform="translate(430.02,470.55) scale(1.070,1) rotate(0.03)">27</text>
<text transform="translate(430.02,522.35) scale(1.070,1) rotate(0.03)">26</text>
<text transform="translate(430.31,568.55) scale(1.086,1) rotate(0.03)">28</text>
<text transform="translate(430.31,607.65) scale(1.086,1) rotate(0.03)">29</text>
<text transform="translate(430.31,626.25) scale(1.086,1) rotate(0.03)">30</text>
<text transform="translate(430.31,643.05) scale(1.086,1) rotate(0.03)">31</text>
<text transform="translate(430.32,662.35) scale(1.065,1) rotate(0.03)">32</text>
<text transform="translate(430.32,696.35) scale(1.065,1) rotate(0.03)">33</text>
<text transform="translate(65.99,346.75) scale(1.107,1) rotate(0.03)">34</text>
<text transform="translate(66.23,385.45) scale(1.060,1) rotate(0.03)">31</text>
<text transform="translate(66.23,419.45) scale(1.060,1) rotate(0.03)">31</text>
<text transform="translate(66.22,457.55) scale(1.070,1) rotate(0.03)">35</text>
<text transform="translate(0.53,472.15) scale(1.060,1) rotate(0.03)">43</text>
<text transform="translate(66.21,480.65) scale(1.086,1) rotate(0.03)">36</text>
<text transform="translate(66.12,506.45) scale(1.070,1) rotate(0.03)">37</text>
<text transform="translate(66.12,528.55) scale(1.070,1) rotate(0.03)">38</text>
<text transform="translate(0.53,537.65) scale(1.060,1) rotate(0.03)">42</text>
<text transform="translate(2.12,585.35) scale(1.070,1) rotate(0.03)">40</text>
<text transform="translate(64.11,590.55) scale(1.091,1) rotate(0.03)">39</text>
<text transform="translate(64.11,617.55) scale(1.091,1) rotate(0.03)">40</text>
<text transform="translate(1.73,627.25) scale(1.060,1) rotate(0.03)">41</text>
<text transform="translate(60.91,676.45) scale(1.091,1) rotate(0.03)">44</text>
<text transform="translate(60.91,715.55) scale(1.091,1) rotate(0.03)">45</text>
<text transform="translate(60.91,747.25) scale(1.091,1) rotate(0.03)">46</text>
<text transform="translate(60.91,773.35) scale(1.091,1) rotate(0.03)">47</text>
<text transform="translate(60.91,806.05) scale(1.091,1) rotate(0.03)">48</text>
<text transform="translate(196.24,689.85) scale(1.047,1) rotate(0.03)">39-1</text>
</g>
</svg>
</body></html>
